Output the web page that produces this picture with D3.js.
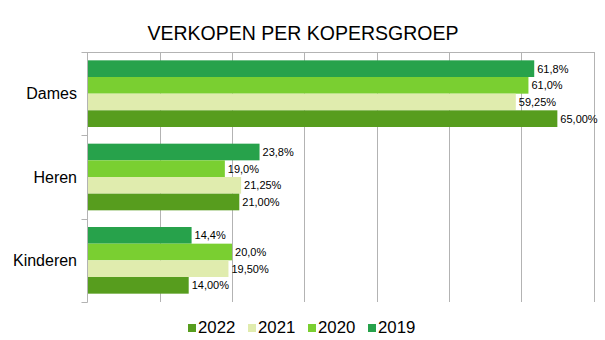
<!DOCTYPE html>
<html>
<head>
<meta charset="utf-8">
<script src="https://cdn.jsdelivr.net/npm/d3@7/dist/d3.min.js"></script>
<style>
    body { margin: 0; background: #fff; }
    svg { display: block; font-family: "Liberation Sans", Arial, sans-serif; }
</style>
</head>
<body>
<svg id="chart" width="605" height="340"></svg>
<script>
const categories = ["Dames", "Heren", "Kinderen"];
const years = ["2019", "2020", "2021", "2022"];          // top to bottom inside a group
const legendYears = ["2022", "2021", "2020", "2019"];

const values2019 = [61.8, 23.8, 14.4];
const values2020 = [61.0, 19.0, 20.0];
const values2021 = [59.25, 21.25, 19.50];
const values2022 = [65.00, 21.00, 14.00];

const decimals = { "2019": 1, "2020": 1, "2021": 2, "2022": 2 };
const colors = { "2019": "#27a24b", "2020": "#7acf31", "2021": "#e0ecae", "2022": "#579d1e" };
const xTicks = [0, 10, 20, 30, 40, 50, 60, 70];

const seriesValues = { "2019": values2019, "2020": values2020, "2021": values2021, "2022": values2022 };

const svg = d3.select("#chart");
const plot = { left: 87.5, right: 593.5, top: 52, bottom: 302 };
const gridColor = "#b3b3b3";

const x = d3.scaleLinear().domain([0, 70]).range([plot.left, plot.right]);
const y0 = d3.scaleBand().domain(categories).range([plot.top, plot.bottom]).padding(0);
const y1 = d3.scaleBand().domain(years).range([0, y0.bandwidth()])
    .paddingInner(0).paddingOuter(0.5);

const fmt = (v, d) => v.toFixed(d).replace(".", ",") + "%";

// title
svg.append("text")
    .attr("x", 303)
    .attr("y", 40)
    .attr("text-anchor", "middle")
    .attr("font-size", 19.5)
    .attr("fill", "#000")
    .text("VERKOPEN PER KOPERSGROEP");

// vertical gridlines
svg.append("g")
    .selectAll("line")
    .data(xTicks.slice(1))
    .join("line")
    .attr("x1", d => Math.round(x(d)) + 0.5)
    .attr("x2", d => Math.round(x(d)) + 0.5)
    .attr("y1", plot.top)
    .attr("y2", plot.bottom)
    .attr("stroke", gridColor)
    .attr("stroke-width", 1);

// top border and band ticks on the left
const bandEdges = categories.map(c => y0(c)).concat([plot.bottom]);
svg.append("g")
    .selectAll("line")
    .data(bandEdges)
    .join("line")
    .attr("x1", plot.left - 6)
    .attr("x2", (d, i) => i === 0 ? Math.round(x(70)) + 0.5 : plot.left)
    .attr("y1", d => Math.round(d) + 0.5)
    .attr("y2", d => Math.round(d) + 0.5)
    .attr("stroke", gridColor)
    .attr("stroke-width", 1);

// bars
const groups = svg.append("g")
    .selectAll("g")
    .data(categories)
    .join("g")
    .attr("transform", c => `translate(0,${y0(c)})`);

const barData = (c, i) => years.map(yr => ({ year: yr, value: seriesValues[yr][i] }));

groups.selectAll("rect")
    .data(barData)
    .join("rect")
    .attr("x", plot.left)
    .attr("y", d => y1(d.year))
    .attr("width", d => x(d.value) - plot.left)
    .attr("height", y1.bandwidth())
    .attr("fill", d => colors[d.year]);

groups.selectAll("text")
    .data(barData)
    .join("text")
    .attr("x", d => x(d.value) + 3)
    .attr("y", d => y1(d.year) + y1.bandwidth() / 2)
    .attr("dy", "0.35em")
    .attr("font-size", 11)
    .attr("fill", "#000")
    .text(d => fmt(d.value, decimals[d.year]));

// left axis line, drawn over the bars
svg.append("line")
    .attr("x1", plot.left).attr("x2", plot.left)
    .attr("y1", plot.top).attr("y2", plot.bottom + 0.5)
    .attr("stroke", gridColor);

// category labels
svg.append("g")
    .selectAll("text")
    .data(categories)
    .join("text")
    .attr("x", 77)
    .attr("y", c => y0(c) + y0.bandwidth() / 2)
    .attr("dy", "0.35em")
    .attr("text-anchor", "end")
    .attr("font-size", 16)
    .attr("fill", "#000")
    .text(c => c);

// legend
const legend = svg.append("g")
    .selectAll("g")
    .data(legendYears)
    .join("g")
    .attr("transform", (d, i) => `translate(${188 + i * 60},324)`);

legend.append("rect")
    .attr("width", 8)
    .attr("height", 8)
    .attr("fill", d => colors[d]);

legend.append("text")
    .attr("x", 10)
    .attr("y", 8.5)
    .attr("font-size", 16.8)
    .attr("fill", "#000")
    .text(d => d);
</script>
</body>
</html>
